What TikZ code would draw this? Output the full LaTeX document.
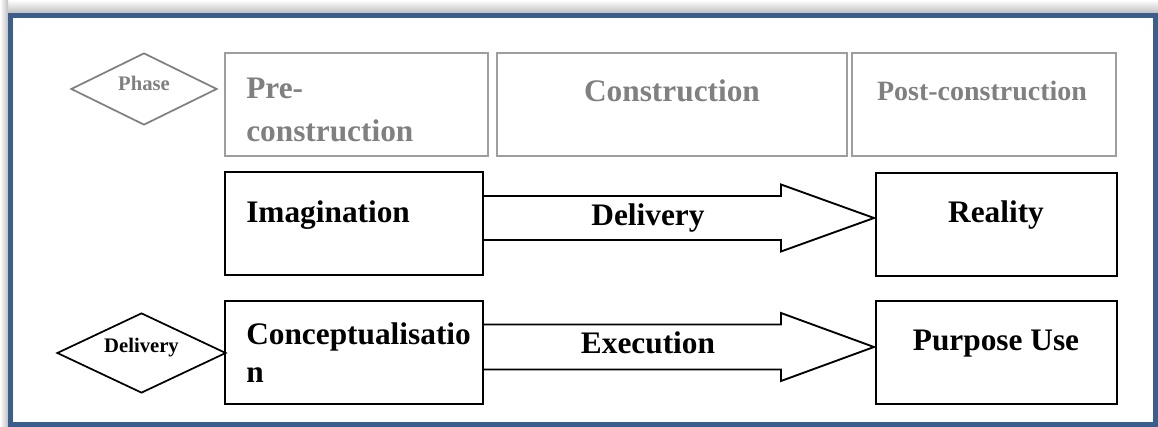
\documentclass[tikz,border=0pt]{standalone}
\usepackage{fontspec}
\setmainfont{Liberation Serif}
\usetikzlibrary{shapes.geometric,calc}
\definecolor{frameblue}{HTML}{3B5E8C}
\definecolor{graytxt}{HTML}{808080}
\definecolor{grayline}{HTML}{9E9E9E}
\begin{document}
\begin{tikzpicture}[x=0.75pt,y=-0.75pt,
  bigtxt/.style={font=\fontsize{23.5}{28}\selectfont\bfseries, inner sep=0pt},
  smalltxt/.style={font=\fontsize{15.5}{18}\selectfont\bfseries, inner sep=0pt},
  graybox/.style={draw=grayline, line width=1.5pt, rectangle, inner sep=0pt, minimum height=77.25pt},
  blackbox/.style={draw=black, line width=1.5pt, rectangle, inner sep=0pt, minimum height=77.25pt},
  diam/.style={diamond, inner sep=0pt, line width=1.3pt},
  bigarrow/.style={draw=black, line width=1.4pt, fill=white, line join=miter}]
\useasboundingbox (0,0) rectangle (1158,427);
% shadow
\shade[top color=white, bottom color=black!25] (0,0) rectangle (1158,13);
\shade[left color=white, right color=black!25] (0,0) rectangle (8,427);
% frame
\draw[frameblue, line width=3.75pt, fill=white] (10.5,15.5) rectangle (1155.5,424.5);
% phase row
\node[diam, draw=graytxt, minimum width=109.5pt, minimum height=54pt] (phase) at (144,89) {};
\node[smalltxt, text=graytxt, anchor=base] (phaset) at (144,91) {Phase};
\node[graybox, minimum width=197.25pt] (pre) at (356.5,104.5) {};
\node[graybox, minimum width=262.5pt] (cons) at (672,104.5) {};
\node[graybox, minimum width=198pt] (post) at (984,104.5) {};
\node[bigtxt, text=graytxt, anchor=base west] (pret1) at (246,99) {Pre-};
\node[bigtxt, text=graytxt, anchor=base west] (pret2) at (246,142) {construction};
\node[bigtxt, text=graytxt, anchor=base] (const) at (672,102) {Construction};
\node[bigtxt, text=graytxt, anchor=base, font=\fontsize{21}{25}\selectfont\bfseries] (postt) at (982,101) {Post-construction};
% row 1
\node[blackbox, minimum width=193.5pt] (imag) at (354,223.5) {};
\node[blackbox, minimum width=180.75pt] (real) at (996.5,224.5) {};
\node[bigtxt, anchor=base west] (imagt) at (246,223) {Imagination};
\node[bigtxt, anchor=base] (realt) at (996,223) {Reality};
\coordinate (a1s) at ($(imag.east)+(0,-5.5)$);
\coordinate (a1e) at ($(a1s -| real.west)+(-1,0)$);
\draw[bigarrow] ($(a1s)+(0,-22)$) -- ($(a1e)+(-93,-22)$) -- ($(a1e)+(-93,-33.5)$) -- (a1e)
  -- ($(a1e)+(-93,33.5)$) -- ($(a1e)+(-93,22)$) -- ($(a1s)+(0,22)$);
\node[bigtxt, anchor=base] (delt) at (648,226) {Delivery};
% row 2
\node[diam, draw=black, minimum width=126.75pt, minimum height=60pt] (deliv) at (141.5,353) {};
\node[smalltxt, anchor=base] (delivt) at (141.5,353) {Delivery};
\node[blackbox, minimum width=193.5pt] (conc) at (354,352.5) {};
\node[blackbox, minimum width=180.75pt] (purp) at (996.5,352.5) {};
\node[bigtxt, anchor=base west] (conct1) at (246,345) {Conceptualisatio};
\node[bigtxt, anchor=base west] (conct2) at (246,383) {n};
\node[bigtxt, anchor=base] (purpt) at (996,351) {Purpose Use};
\coordinate (a2s) at ($(conc.east)+(0,-5.5)$);
\coordinate (a2e) at ($(a2s -| purp.west)+(-1,0)$);
\draw[bigarrow] ($(a2s)+(0,-22.5)$) -- ($(a2e)+(-93,-22.5)$) -- ($(a2e)+(-93,-34)$) -- (a2e)
  -- ($(a2e)+(-93,34)$) -- ($(a2e)+(-93,22.5)$) -- ($(a2s)+(0,22.5)$);
\node[bigtxt, anchor=base] (exect) at (648,354) {Execution};
\end{tikzpicture}
\end{document}
